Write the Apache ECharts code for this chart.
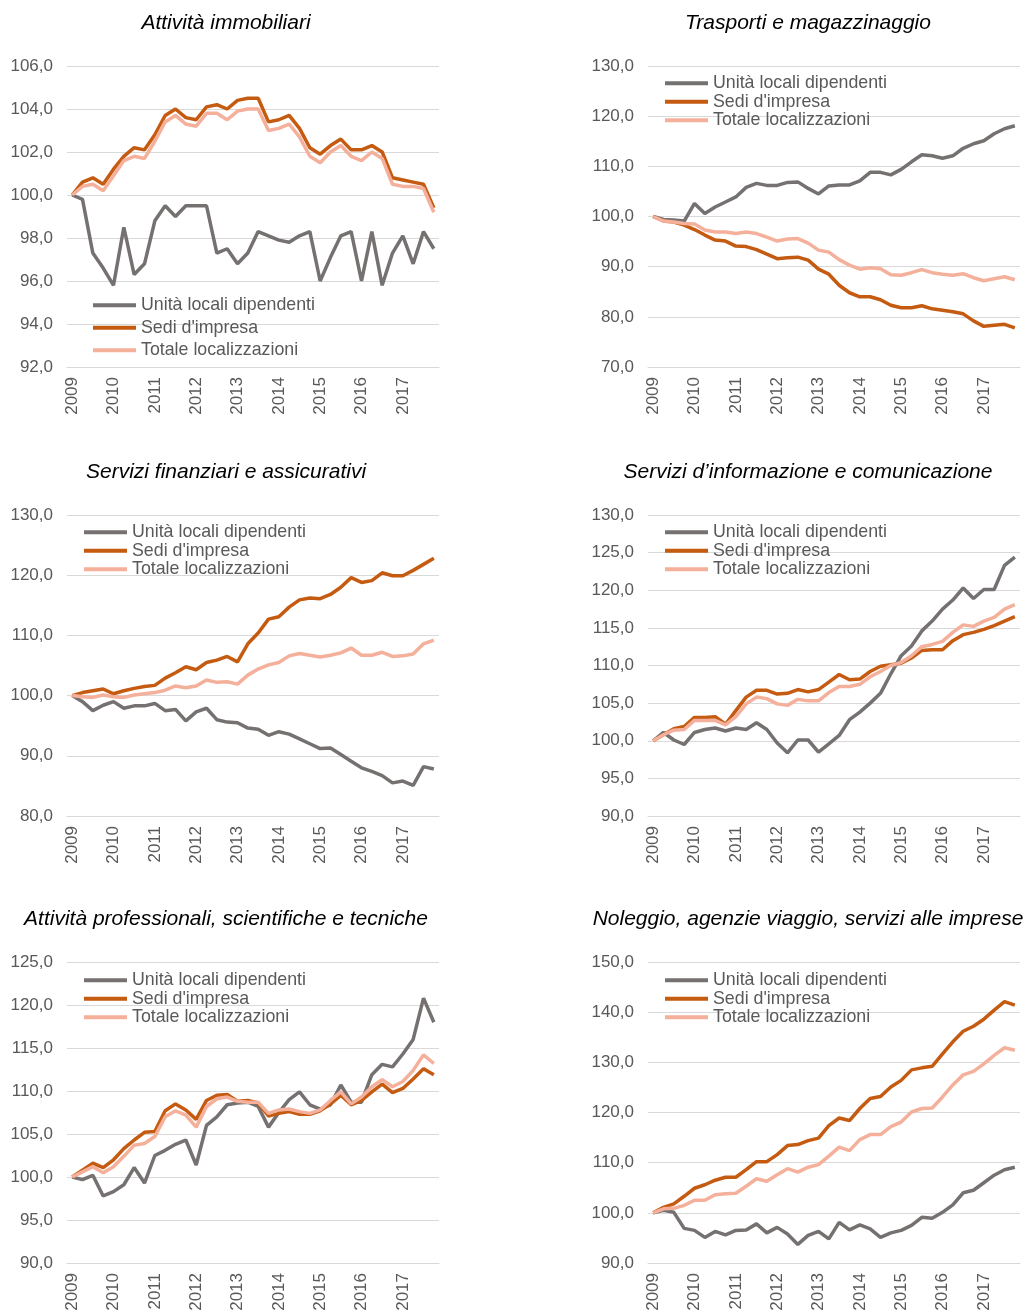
<!DOCTYPE html>
<html>
<head>
<meta charset="utf-8">
<script src="https://cdn.jsdelivr.net/npm/echarts@6/dist/echarts.min.js"></script>
<style>
  html, body { margin: 0; padding: 0; background: #fff; }
  #chart { width: 1028px; height: 1314px; }
</style>
</head>
<body>
<div id="chart"></div>
<script>
// quarters 2009 T1 .. 2017 T4, only the year is shown on the axis
const years = ["2009", "2010", "2011", "2012", "2013", "2014", "2015", "2016", "2017"];
const quarters = [];
years.forEach((y) => {
  ["T1", "T2", "T3", "T4"].forEach((q) => quarters.push(y + " " + q));
});

const seriesNames = ["Unità locali dipendenti", "Sedi d'impresa", "Totale localizzazioni"];

// Attività immobiliari
const immobUnita = [100.0, 99.8, 97.3, 96.6, 95.8, 98.5, 96.3, 96.8, 98.8, 99.5, 99.0, 99.5, 99.5, 99.5, 97.3, 97.5, 96.8, 97.3, 98.3, 98.1, 97.9, 97.8, 98.1, 98.3, 96.0, 97.1, 98.1, 98.3, 96.0, 98.3, 95.8, 97.3, 98.1, 96.8, 98.3, 97.5];
const immobSedi = [100.0, 100.6, 100.8, 100.5, 101.2, 101.8, 102.2, 102.1, 102.8, 103.7, 104.0, 103.6, 103.5, 104.1, 104.2, 104.0, 104.4, 104.5, 104.5, 103.4, 103.5, 103.7, 103.1, 102.2, 101.9, 102.3, 102.6, 102.1, 102.1, 102.3, 102.0, 100.8, 100.7, 100.6, 100.5, 99.4];
const immobTotale = [100.0, 100.4, 100.5, 100.2, 100.9, 101.6, 101.8, 101.7, 102.5, 103.4, 103.7, 103.3, 103.2, 103.8, 103.8, 103.5, 103.9, 104.0, 104.0, 103.0, 103.1, 103.3, 102.7, 101.8, 101.5, 102.0, 102.3, 101.8, 101.6, 102.0, 101.7, 100.5, 100.4, 100.4, 100.3, 99.2];

// Trasporti e magazzinaggio
const traspUnita = [100.0, 99.4, 99.3, 99.1, 102.6, 100.6, 101.9, 102.9, 103.9, 105.8, 106.6, 106.2, 106.2, 106.8, 106.9, 105.6, 104.5, 106.1, 106.3, 106.3, 107.1, 108.8, 108.8, 108.3, 109.4, 110.9, 112.3, 112.1, 111.6, 112.1, 113.6, 114.5, 115.1, 116.5, 117.5, 118.1];
const traspSedi = [100.0, 99.1, 98.9, 98.3, 97.4, 96.3, 95.3, 95.1, 94.1, 94.0, 93.4, 92.5, 91.6, 91.8, 91.9, 91.3, 89.5, 88.5, 86.3, 84.8, 84.0, 84.0, 83.4, 82.3, 81.8, 81.8, 82.2, 81.6, 81.3, 81.0, 80.6, 79.2, 78.1, 78.3, 78.5, 77.8];
const traspTotale = [100.0, 99.1, 98.9, 98.6, 98.5, 97.3, 96.9, 96.9, 96.6, 96.9, 96.6, 95.9, 95.1, 95.5, 95.6, 94.7, 93.3, 92.9, 91.4, 90.3, 89.5, 89.8, 89.6, 88.4, 88.3, 88.8, 89.4, 88.8, 88.5, 88.3, 88.6, 87.8, 87.2, 87.6, 88.0, 87.4];

// Servizi finanziari e assicurativi
const finUnita = [100.0, 99.0, 97.5, 98.4, 99.0, 97.9, 98.3, 98.3, 98.7, 97.5, 97.7, 95.8, 97.3, 97.9, 96.0, 95.6, 95.5, 94.6, 94.4, 93.4, 94.0, 93.6, 92.8, 92.0, 91.2, 91.3, 90.2, 89.1, 88.0, 87.4, 86.7, 85.5, 85.8, 85.1, 88.2, 87.8];
const finSedi = [100.0, 100.5, 100.8, 101.1, 100.3, 100.8, 101.2, 101.5, 101.7, 102.9, 103.8, 104.8, 104.3, 105.5, 105.9, 106.5, 105.6, 108.6, 110.4, 112.7, 113.1, 114.7, 115.9, 116.2, 116.1, 116.8, 118.0, 119.6, 118.8, 119.1, 120.4, 119.9, 119.9, 120.8, 121.8, 122.8];
const finTotale = [100.0, 99.8, 99.7, 100.1, 99.8, 99.7, 100.1, 100.3, 100.5, 100.9, 101.6, 101.3, 101.6, 102.6, 102.2, 102.3, 101.9, 103.4, 104.4, 105.1, 105.5, 106.6, 107.0, 106.7, 106.4, 106.7, 107.1, 107.9, 106.7, 106.7, 107.2, 106.5, 106.6, 106.9, 108.6, 109.2];

// Servizi d'informazione e comunicazione
const infoUnita = [100.0, 101.1, 100.1, 99.5, 101.1, 101.5, 101.7, 101.3, 101.7, 101.5, 102.4, 101.5, 99.7, 98.4, 100.1, 100.1, 98.5, 99.6, 100.7, 102.8, 103.8, 105.0, 106.3, 108.9, 111.3, 112.6, 114.6, 115.9, 117.5, 118.7, 120.3, 118.9, 120.1, 120.1, 123.3, 124.4];
const infoSedi = [100.0, 100.8, 101.6, 101.9, 103.1, 103.1, 103.2, 102.2, 104.0, 105.8, 106.7, 106.7, 106.2, 106.3, 106.8, 106.5, 106.8, 107.8, 108.8, 108.1, 108.2, 109.2, 109.9, 110.1, 110.3, 111.0, 112.0, 112.1, 112.1, 113.3, 114.1, 114.4, 114.8, 115.3, 115.9, 116.5];
const infoTotale = [100.0, 100.8, 101.4, 101.5, 102.7, 102.7, 102.7, 102.1, 103.2, 104.9, 105.8, 105.6, 104.9, 104.7, 105.5, 105.3, 105.3, 106.4, 107.2, 107.2, 107.5, 108.5, 109.2, 110.0, 110.4, 111.3, 112.5, 112.8, 113.2, 114.4, 115.4, 115.2, 115.9, 116.4, 117.5, 118.1];

// Attività professionali, scientifiche e tecniche
const profUnita = [100.0, 99.7, 100.2, 97.8, 98.3, 99.1, 101.1, 99.3, 102.5, 103.1, 103.8, 104.3, 101.4, 106.0, 107.0, 108.4, 108.6, 108.7, 108.2, 105.8, 107.5, 109.0, 109.9, 108.4, 107.9, 108.4, 110.7, 108.7, 108.7, 111.9, 113.1, 112.8, 114.3, 116.0, 120.8, 118.0];
const profSedi = [100.0, 100.8, 101.6, 101.1, 102.0, 103.3, 104.3, 105.2, 105.3, 107.7, 108.5, 107.8, 106.7, 108.9, 109.5, 109.6, 108.8, 108.9, 108.6, 107.1, 107.4, 107.6, 107.3, 107.3, 107.7, 108.5, 109.5, 108.4, 108.9, 109.9, 110.8, 109.8, 110.3, 111.4, 112.6, 111.9];
const profTotale = [100.0, 100.6, 101.2, 100.5, 101.2, 102.4, 103.7, 103.9, 104.7, 107.0, 107.7, 107.2, 105.8, 108.2, 109.1, 109.3, 108.8, 108.7, 108.7, 107.4, 107.8, 107.9, 107.6, 107.4, 107.8, 108.9, 109.9, 108.5, 109.3, 110.5, 111.3, 110.5, 111.1, 112.4, 114.2, 113.2];

// Noleggio, agenzie viaggio, servizi alle imprese
const nolUnita = [100.0, 100.5, 100.1, 96.9, 96.5, 95.1, 96.3, 95.6, 96.5, 96.6, 97.8, 96.0, 97.1, 95.8, 93.7, 95.5, 96.3, 94.8, 98.1, 96.6, 97.6, 96.8, 95.1, 96.0, 96.5, 97.5, 99.1, 98.9, 100.1, 101.6, 104.0, 104.5, 106.0, 107.5, 108.6, 109.1];
const nolSedi = [100.0, 101.1, 101.8, 103.3, 104.9, 105.6, 106.5, 107.1, 107.1, 108.6, 110.2, 110.2, 111.6, 113.4, 113.6, 114.4, 114.9, 117.4, 118.9, 118.4, 120.8, 122.8, 123.2, 125.1, 126.4, 128.5, 128.9, 129.2, 131.7, 134.1, 136.2, 137.2, 138.6, 140.4, 142.1, 141.4];
const nolTotale = [100.0, 100.8, 100.9, 101.5, 102.5, 102.5, 103.6, 103.8, 103.9, 105.3, 106.8, 106.3, 107.6, 108.8, 108.1, 109.1, 109.6, 111.3, 113.1, 112.4, 114.6, 115.6, 115.6, 117.2, 118.1, 120.1, 120.8, 120.9, 123.1, 125.5, 127.5, 128.2, 129.7, 131.4, 132.9, 132.4];

const colors = ["#767171", "#C55A11", "#F4B09B"];
const font = "'Liberation Sans', Arial, sans-serif";

// one entry per panel: title, data and where it sits on the page
const panels = [
  { title: "Attività immobiliari", data: [immobUnita, immobSedi, immobTotale],
    min: 92, max: 106, interval: 2, left: 67, top: 66, cx: 226,
    legendLeft: 93, legendTop: 294, legendLine: 22.5 },
  { title: "Trasporti e magazzinaggio", data: [traspUnita, traspSedi, traspTotale],
    min: 70, max: 130, interval: 10, left: 648, top: 66, cx: 808,
    legendLeft: 665, legendTop: 74, legendLine: 18.5 },
  { title: "Servizi finanziari e assicurativi", data: [finUnita, finSedi, finTotale],
    min: 80, max: 130, interval: 10, left: 67, top: 515, cx: 226,
    legendLeft: 84, legendTop: 523, legendLine: 18.5 },
  { title: "Servizi d’informazione e comunicazione", data: [infoUnita, infoSedi, infoTotale],
    min: 90, max: 130, interval: 5, left: 648, top: 515, cx: 808,
    legendLeft: 665, legendTop: 523, legendLine: 18.5 },
  { title: "Attività professionali, scientifiche e tecniche", data: [profUnita, profSedi, profTotale],
    min: 90, max: 125, interval: 5, left: 67, top: 962, cx: 226,
    legendLeft: 84, legendTop: 971, legendLine: 18.5 },
  { title: "Noleggio, agenzie viaggio, servizi alle imprese", data: [nolUnita, nolSedi, nolTotale],
    min: 90, max: 150, interval: 10, left: 648, top: 962, cx: 808,
    legendLeft: 665, legendTop: 971, legendLine: 18.5 },
];

const chart = echarts.init(document.getElementById("chart"));

let option = {
  animation: false,
  color: colors,
  textStyle: { fontFamily: font },
  title: [],
  legend: [],
  grid: [],
  xAxis: [],
  yAxis: [],
  series: [],
};

panels.forEach((p, i) => {
  option.title.push({
    text: p.title,
    left: p.cx,
    top: p.top - 53,
    textAlign: "center",
    padding: 0,
    textStyle: { fontFamily: font, fontSize: 21, fontStyle: "italic", fontWeight: "normal", color: "#000" },
  });

  option.grid.push({ left: p.left, top: p.top, width: 372, height: 301 });

  option.xAxis.push({
    type: "category",
    gridIndex: i,
    data: quarters,
    boundaryGap: true,
    axisLine: { show: true, lineStyle: { color: "#D9D9D9", width: 1 } },
    axisTick: { show: false },
    axisLabel: {
      interval: 3,
      rotate: 90,
      margin: 10,
      color: "#595959",
      fontSize: 17,
      fontFamily: font,
      formatter: (v) => v.split(" ")[0],
    },
    splitLine: { show: false },
  });

  option.yAxis.push({
    type: "value",
    gridIndex: i,
    min: p.min,
    max: p.max,
    interval: p.interval,
    axisLine: { show: false },
    axisTick: { show: false },
    axisLabel: {
      margin: 14,
      color: "#595959",
      fontSize: 17,
      fontFamily: font,
      formatter: (v) => v.toFixed(1).replace(".", ","),
    },
    splitLine: { lineStyle: { color: "#D9D9D9", width: 1 } },
  });

  option.legend.push({
    orient: "vertical",
    left: p.legendLeft,
    top: p.legendTop,
    padding: 0,
    itemGap: 0,
    itemWidth: 43,
    itemHeight: 4,
    icon: "rect",
    data: seriesNames,
    textStyle: { fontFamily: font, fontSize: 17.8, color: "#595959", lineHeight: p.legendLine },
  });

  p.data.forEach((vals, k) => {
    option.series.push({
      name: seriesNames[k],
      type: "line",
      xAxisIndex: i,
      yAxisIndex: i,
      data: vals,
      showSymbol: false,
      symbol: "none",
      lineStyle: { width: 3.5, color: colors[k] },
      itemStyle: { color: colors[k] },
      emphasis: { disabled: true },
    });
  });
});

chart.setOption(option);
</script>
</body>
</html>
